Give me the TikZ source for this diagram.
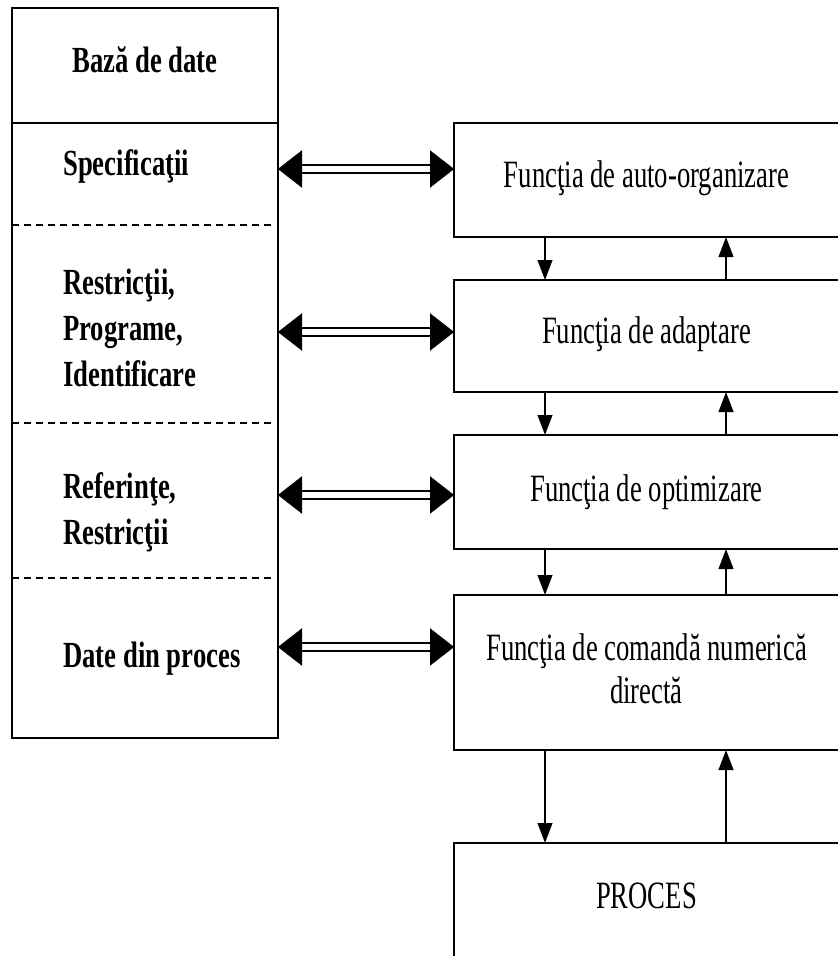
\documentclass[tikz,border=0pt]{standalone}
\usepackage{fontspec}
\setmainfont{Liberation Serif}
\usepackage{graphicx}
\usetikzlibrary{arrows.meta,fit}
% tall, narrow lettering
\newcommand{\tallbf}[1]{\scalebox{1}[1.38]{#1}}
\newcommand{\tallrm}[1]{\scalebox{1}[1.45]{#1}}

\begin{document}
\begin{tikzpicture}[x=0.75pt,y=-0.75pt,
  frame/.style={draw, line width=1.4pt, inner sep=0pt, outer sep=0pt},
  lbl/.style={font=\fontsize{20}{25}\selectfont\bfseries, inner sep=0pt, anchor=base west},
  ttl/.style={font=\fontsize{20}{25}\selectfont\bfseries, inner sep=0pt, anchor=base},
  ftxt/.style={font=\fontsize{20}{22.5}\selectfont, inner sep=0pt, anchor=base},
  sep/.style={line width=1pt, dash pattern=on 5.2pt off 3.8pt},
  rule/.style={line width=1.4pt},
  vtip/.style={line width=1.5pt, -{Triangle[length=15pt,width=11pt]}},
  dshaft/.style={line width=1.5pt, double=white, double distance=4.8pt,
                 shorten <=12pt, shorten >=12pt},
  dtips/.style={white, line width=0.1pt,
                {Triangle[length=18pt,width=28pt,black]}-{Triangle[length=18pt,width=28pt,black]}}
]
\useasboundingbox (0,0) rectangle (838,956);
\clip (0,0) rectangle (838,956);

% data base column
\node[frame, fit={(12,8)(278,738)}] (lb) {};
\coordinate (h0) at (0,123);
\coordinate (h1) at (0,225);
\coordinate (h2) at (0,423);
\coordinate (h3) at (0,578);
\draw[rule] (lb.west |- h0) -- (lb.east |- h0);
\draw[sep] (lb.west |- h1) -- ([xshift=-3pt]lb.east |- h1);
\draw[sep] (lb.west |- h2) -- ([xshift=-3pt]lb.east |- h2);
\draw[sep] (lb.west |- h3) -- ([xshift=-3pt]lb.east |- h3);

\node[ttl] (tbd) at (145,73) {\tallbf{Bază de date}};
\node[lbl] (tsp) at (63,175) {\tallbf{Specificaţii}};
\node[lbl] (trp) at (63,294) {\tallbf{\begin{tabular}[t]{@{}l@{}}Restricţii,\\Programe,\\Identificare\end{tabular}}};
\node[lbl] (trr) at (63,498) {\tallbf{\begin{tabular}[t]{@{}l@{}}Referinţe,\\Restricţii\end{tabular}}};
\node[lbl] (tdp) at (63,667) {\tallbf{Date din proces}};

% function levels
\node[frame, fit={(454,123)(842,237)}] (f1) {};
\node[frame, fit={(454,280)(842,392)}] (f2) {};
\node[frame, fit={(454,435)(842,549)}] (f3) {};
\node[frame, fit={(454,595)(842,750)}] (f4) {};
\node[frame, fit={(454,843)(842,962)}] (pr) {};

\node[ftxt] (t1) at (646.5,187) {\tallrm{Funcţia de auto-organizare}};
\node[ftxt] (t2) at (646.5,343) {\tallrm{Funcţia de adaptare}};
\node[ftxt] (t3) at (646.5,501) {\tallrm{Funcţia de optimizare}};
\node[ftxt] (t4) at (646.5,660) {\tallrm{\begin{tabular}[t]{@{}c@{}}Funcţia de comandă numerică\\directă\end{tabular}}};
\node[ftxt] (t5) at (646.5,908) {\tallrm{PROCES}};

% vertical signal flow
\coordinate (xd) at (545,0);
\coordinate (xu) at (726,0);
\foreach \a/\b in {f1/f2, f2/f3, f3/f4, f4/pr}{
  \draw[vtip] (\a.south -| xd) -- (\b.north -| xd);
  \draw[vtip] (\b.north -| xu) -- (\a.south -| xu);
}

% exchanges with the data base
\coordinate (y1) at (0,169);
\coordinate (y2) at (0,332);
\coordinate (y3) at (0,495);
\coordinate (y4) at (0,647);
\foreach \y/\f in {y1/f1, y2/f2, y3/f3, y4/f4}{
  \draw[dshaft] (lb.east |- \y) -- (\f.west |- \y);
  \draw[dtips] (lb.east |- \y) -- (\f.west |- \y);
}
\end{tikzpicture}
\end{document}
